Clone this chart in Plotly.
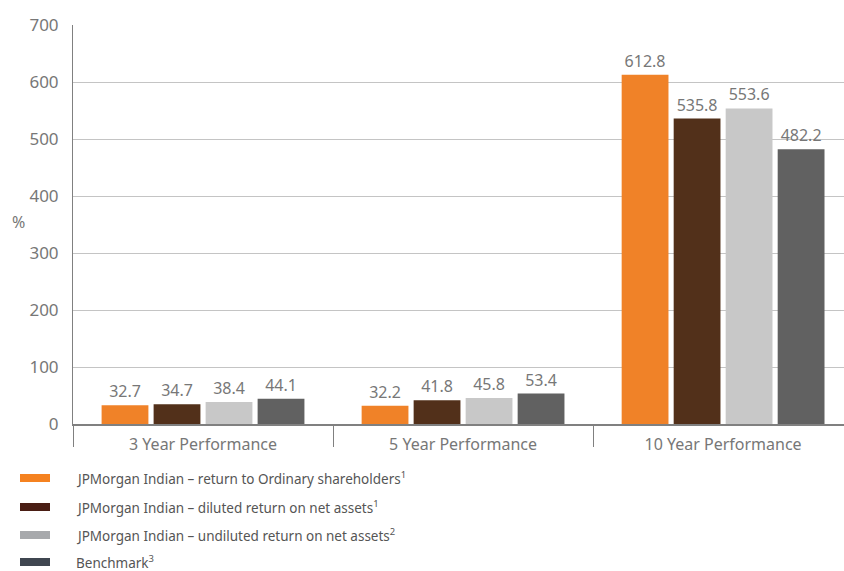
import plotly.graph_objects as go

categories = ["3 Year Performance", "5 Year Performance", "10 Year Performance"]
series_names = [
    "JPMorgan Indian – return to Ordinary shareholders<sup>1</sup>",
    "JPMorgan Indian – diluted return on net assets<sup>1</sup>",
    "JPMorgan Indian – undiluted return on net assets<sup>2</sup>",
    "Benchmark<sup>3</sup>",
]
share_return = [32.7, 32.2, 612.8]
diluted_nav = [34.7, 41.8, 535.8]
undiluted_nav = [38.4, 45.8, 553.6]
benchmark = [44.1, 53.4, 482.2]
y_ticks = [0, 100, 200, 300, 400, 500, 600, 700]

bar_colors = ["#f08228", "#52301a", "#c8c8c8", "#616161"]
legend_colors = ["#f58220", "#4a1e14", "#a7a9ac", "#3f4650"]
values = [share_return, diluted_nav, undiluted_nav, benchmark]

FONT = "Noto Sans"
fig = go.Figure()
for name, vals, col in zip(series_names, values, bar_colors):
    fig.add_trace(go.Bar(
        x=categories, y=vals, name=name, marker=dict(color=col, line=dict(width=0)),
        text=[f"{v:.1f}" for v in vals], textposition="outside",
        textfont=dict(family=FONT, size=16, color="#777777"), cliponaxis=False,
        showlegend=False,
    ))

fig.update_layout(
    width=844, height=571,
    margin=dict(l=73, r=0, t=25, b=147),
    paper_bgcolor="white", plot_bgcolor="white",
    barmode="group", bargap=0.2, bargroupgap=0.1,
    font=dict(family=FONT, color="#777777"),
    showlegend=False,
)
fig.update_xaxes(
    type="category", range=[-0.5, 2.465],
    showline=True, linecolor="#808080", linewidth=2,
    tickson="boundaries", ticks="outside", ticklen=21, tickcolor="#808080", tickwidth=1,
    ticklabelstandoff=5,
    tickfont=dict(family=FONT, size=16, color="#777777"),
    showgrid=False,
)
fig.update_yaxes(
    range=[0, 700], tickvals=y_ticks, showgrid=True, gridcolor="#c4c4c4", gridwidth=1,
    showline=True, linecolor="#808080", linewidth=1,
    zeroline=False, ticks="", ticklabelstandoff=10,
    tickfont=dict(family=FONT, size=17, color="#777777"),
)

fig.add_annotation(text="%", xref="paper", yref="paper", x=-73/771, y=(424-222)/399,
                   xanchor="left", yanchor="middle", showarrow=False,
                   font=dict(family=FONT, size=16, color="#777777"), xshift=10)

rows_y = [478, 507, 535, 562]
for name, col, ry in zip(series_names, legend_colors, rows_y):
    fig.add_shape(type="rect", xref="paper", yref="paper",
                  x0=(20-73)/771, x1=(50-73)/771,
                  y0=(424-ry-4)/399, y1=(424-ry+4)/399,
                  fillcolor=col, line=dict(width=0))
    fig.add_annotation(text=name, xref="paper", yref="paper",
                       x=(79-73)/771, y=(424-ry)/399, xanchor="left", yanchor="middle",
                       showarrow=False, xshift=-4, borderpad=0,
                       font=dict(family=FONT, size=13.5, color="#555555"))

fig.write_html("out.html")
